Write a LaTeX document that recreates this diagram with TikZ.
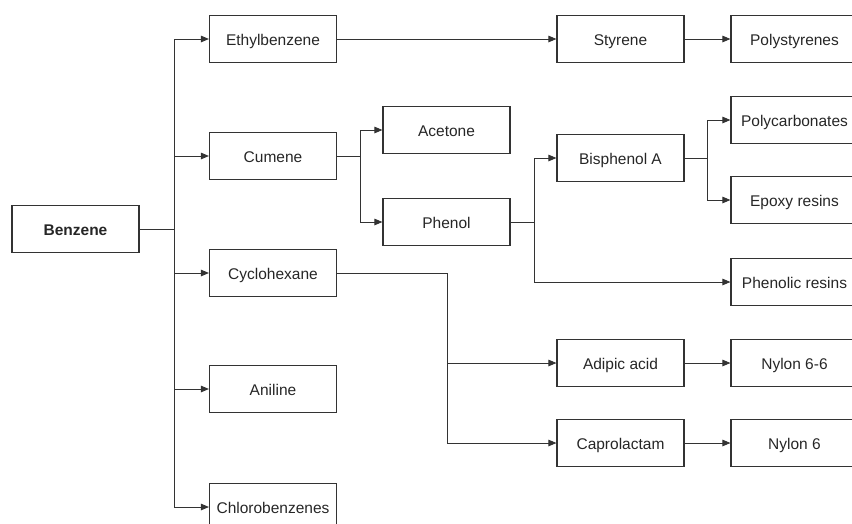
\documentclass[tikz,border=0pt]{standalone}
\usepackage{fontspec}
\setmainfont{Liberation Sans}
\usetikzlibrary{arrows.meta}

\tikzset{
  chem/.style={draw=black!80, line width=1.1pt, minimum width=127pt, minimum height=47pt,
    inner sep=0pt, text height=12.5pt, text depth=0pt,
    font=\fontsize{15.5}{18}\selectfont, text=black!85},
  link/.style={draw=black!80, line width=0.9pt},
  arr/.style={link, -{Triangle[length=8pt,width=6.5pt]}}
}

\begin{document}
\begin{tikzpicture}[x=1pt,y=-1pt]
  \useasboundingbox (0,0) rectangle (852,523);
  \clip (0,0) rectangle (852,523);

  % Define the columns
  \def\colA{75.5}
  \def\colB{273}
  \def\colC{446.5}
  \def\colD{620.5}
  \def\colE{794.5}

  % Place the boxes
  \node[chem, font=\fontsize{15.5}{18}\selectfont\bfseries] (benzene) at (\colA,229) {Benzene};

  \node[chem] (ethyl) at (\colB,39) {Ethylbenzene};
  \node[chem] (cumene) at (\colB,156) {Cumene};
  \node[chem] (cyclo) at (\colB,273) {Cyclohexane};
  \node[chem] (aniline) at (\colB,389) {Aniline};
  \node[chem] (chloro) at (\colB,507) {Chlorobenzenes};

  \node[chem] (acetone) at (\colC,130) {Acetone};
  \node[chem] (phenol) at (\colC,222) {Phenol};

  \node[chem] (styrene) at (\colD,39) {Styrene};
  \node[chem] (bisphenol) at (\colD,158) {Bisphenol A};
  \node[chem] (adipic) at (\colD,363) {Adipic acid};
  \node[chem] (caprolactam) at (\colD,443) {Caprolactam};

  \node[chem] (polystyrene) at (\colE,39) {Polystyrenes};
  \node[chem] (polycarb) at (\colE,120) {Polycarbonates};
  \node[chem] (epoxy) at (\colE,200) {Epoxy resins};
  \node[chem] (phenolic) at (\colE,282) {Phenolic resins};
  \node[chem] (nylonsixsix) at (\colE,363) {Nylon 6-6};
  \node[chem] (nylonsix) at (\colE,443) {Nylon 6};

  % Branch points
  \coordinate (jbenzene) at (174,229);
  \coordinate (jcumene) at (360,156);
  \coordinate (jphenol) at (534,222);
  \coordinate (jbisphenol) at (707,158);
  \coordinate (jcyclo) at (447,273);

  % Benzene to its products
  \draw[link] (benzene.east) -- (jbenzene);
  \draw[link] (jbenzene |- ethyl.west) -- (jbenzene |- chloro.west);
  \foreach \n in {ethyl,cumene,cyclo,aniline,chloro} {
    \draw[arr] (jbenzene |- \n.west) -- (\n.west);
  }

  % Cumene to acetone and phenol
  \draw[link] (cumene.east) -- (jcumene);
  \draw[link] (jcumene |- acetone.west) -- (jcumene |- phenol.west);
  \foreach \n in {acetone,phenol} {
    \draw[arr] (jcumene |- \n.west) -- (\n.west);
  }

  % Phenol to bisphenol A and phenolic resins
  \draw[link] (phenol.east) -- (jphenol);
  \draw[link] (jphenol |- bisphenol.west) -- (jphenol |- phenolic.west);
  \foreach \n in {bisphenol,phenolic} {
    \draw[arr] (jphenol |- \n.west) -- (\n.west);
  }

  % Bisphenol A to polycarbonates and epoxy resins
  \draw[link] (bisphenol.east) -- (jbisphenol);
  \draw[link] (jbisphenol |- polycarb.west) -- (jbisphenol |- epoxy.west);
  \foreach \n in {polycarb,epoxy} {
    \draw[arr] (jbisphenol |- \n.west) -- (\n.west);
  }

  % Cyclohexane to adipic acid and caprolactam
  \draw[link] (cyclo.east) -- (jcyclo) -- (jcyclo |- caprolactam.west);
  \foreach \n in {adipic,caprolactam} {
    \draw[arr] (jcyclo |- \n.west) -- (\n.west);
  }

  % Straight chains
  \draw[arr] (ethyl) -- (styrene);
  \draw[arr] (styrene) -- (polystyrene);
  \draw[arr] (adipic) -- (nylonsixsix);
  \draw[arr] (caprolactam) -- (nylonsix);

\end{tikzpicture}
\end{document}
